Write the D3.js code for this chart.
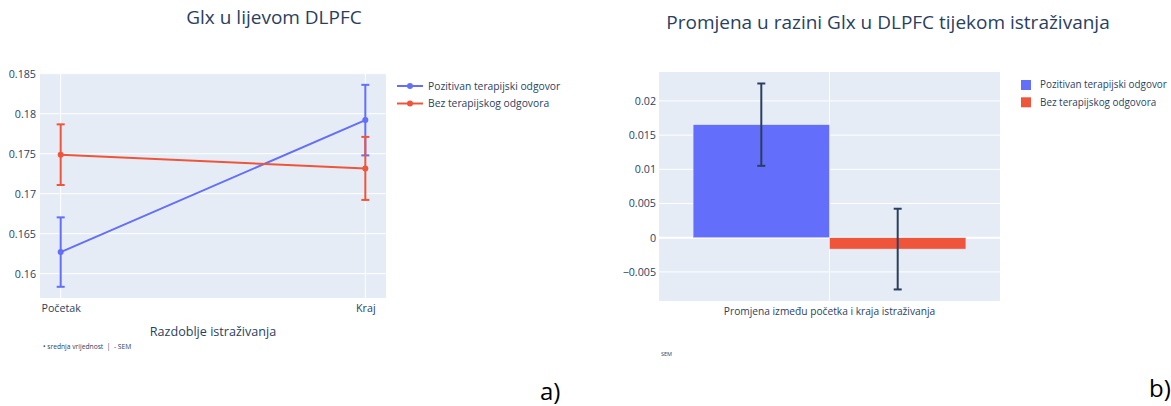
<!DOCTYPE html>
<html><head><meta charset="utf-8">
<script src="https://cdn.jsdelivr.net/npm/d3@7"></script>
<style>
html,body{margin:0;padding:0;background:#fff;overflow:hidden;}
text{font-family:"Open Sans",sans-serif;}
</style></head>
<body><svg id="c" width="1171" height="406"></svg>
<script>
// ---- data ----
const periods = ["Početak", "Kraj"];
const seriesNames = ["Pozitivan terapijski odgovor", "Bez terapijskog odgovora"];
const posMean = [0.1627, 0.1792];
const posSem = [0.00434, 0.00441];
const negMean = [0.17488, 0.17316];
const negSem = [0.00379, 0.00394];
const leftTicks = [0.16, 0.165, 0.17, 0.175, 0.18, 0.185];

const changeCategory = ["Promjena između početka i kraja istraživanja"];
const changeMean = [0.01653, -0.00166];
const changeSem = [0.00602, 0.0059];
const rightTicks = [-0.005, 0, 0.005, 0.01, 0.015, 0.02];

const colors = ["#636efa", "#EF553B"];
const ink = "#2a3f5f";

const svg = d3.select("#c");

// ---------- LEFT CHART ----------
const L = {x0: 40, x1: 386, y0: 73, y1: 298};
const xL = d3.scalePoint().domain(periods).range([L.x0, L.x1]).padding(0.0679);
const yL = d3.scaleLinear().domain([0.15696, 0.18509]).range([L.y1, L.y0]);

svg.append("rect").attr("x", L.x0).attr("y", L.y0).attr("width", L.x1 - L.x0).attr("height", L.y1 - L.y0).attr("fill", "#E5ECF6");
const gL = svg.append("g");
gL.selectAll("line.hg").data(leftTicks).join("line")
  .attr("x1", L.x0).attr("x2", L.x1).attr("y1", d => yL(d)).attr("y2", d => yL(d))
  .attr("stroke", "#fff").attr("stroke-width", 1);
gL.selectAll("line.vg").data(periods).join("line").attr("class","vg")
  .attr("x1", d => xL(d)).attr("x2", d => xL(d)).attr("y1", L.y0).attr("y2", L.y1)
  .attr("stroke", "#fff").attr("stroke-width", 1);

const yAxisL = svg.append("g").attr("transform", `translate(${L.x0},0)`)
  .call(d3.axisLeft(yL).tickValues(leftTicks).tickSize(0).tickPadding(4).tickFormat(d3.format("~g")));
yAxisL.select(".domain").remove();
yAxisL.selectAll("text").attr("font-size", "10.7px").attr("fill", ink).attr("font-family", "Open Sans");

const xAxisL = svg.append("g").attr("transform", `translate(0,${L.y1})`)
  .call(d3.axisBottom(xL).tickSize(0).tickPadding(6));
xAxisL.select(".domain").remove();
xAxisL.selectAll("text").attr("font-size", "10.7px").attr("fill", ink).attr("font-family", "Open Sans");

const leftSeries = [
  {name: seriesNames[0], mean: posMean, sem: posSem, color: colors[0]},
  {name: seriesNames[1], mean: negMean, sem: negSem, color: colors[1]}
];
leftSeries.forEach(s => {
  const pts = periods.map((p, i) => ({p, m: s.mean[i], e: s.sem[i]}));
  const g = svg.append("g");
  pts.forEach(d => {
    const x = xL(d.p);
    g.append("line").attr("x1", x).attr("x2", x).attr("y1", yL(d.m - d.e)).attr("y2", yL(d.m + d.e))
      .attr("stroke", s.color).attr("stroke-width", 2);
    [d.m - d.e, d.m + d.e].forEach(v => {
      g.append("line").attr("x1", x - 4).attr("x2", x + 4).attr("y1", yL(v)).attr("y2", yL(v))
        .attr("stroke", s.color).attr("stroke-width", 2);
    });
  });
  g.append("path").datum(pts)
    .attr("d", d3.line().x(d => xL(d.p)).y(d => yL(d.m)))
    .attr("fill", "none").attr("stroke", s.color).attr("stroke-width", 2);
  g.selectAll("circle").data(pts).join("circle")
    .attr("cx", d => xL(d.p)).attr("cy", d => yL(d.m)).attr("r", 3).attr("fill", s.color);
});

// left legend
const legL = svg.append("g");
leftSeries.forEach((s, i) => {
  const y = 86 + i * 17.5;
  legL.append("line").attr("x1", 397).attr("x2", 423).attr("y1", y).attr("y2", y).attr("stroke", s.color).attr("stroke-width", 2);
  legL.append("circle").attr("cx", 410).attr("cy", y).attr("r", 3).attr("fill", s.color);
  legL.append("text").attr("x", 428).attr("y", y).attr("dy", "0.35em").attr("font-size", "10.3px").attr("fill", ink).text(s.name);
});

svg.append("text").attr("x", 274).attr("y", 24).attr("text-anchor", "middle").attr("font-size", "19px").attr("fill", ink).text("Glx u lijevom DLPFC");
svg.append("text").attr("x", 213).attr("y", 336).attr("text-anchor", "middle").attr("font-size", "12.6px").attr("fill", ink).text("Razdoblje istraživanja");
svg.append("text").attr("x", 43).attr("y", 349).attr("font-size", "6.7px").attr("fill", ink).attr("xml:space", "preserve").text("• srednja vrijednost  |  - SEM");

// ---------- RIGHT CHART ----------
const R = {x0: 659, x1: 1000, y0: 72, y1: 301};
const xR = d3.scaleBand().domain(changeCategory).range([R.x0, R.x1]).padding(0);
const xSub = d3.scaleBand().domain(seriesNames).range([xR.bandwidth() * 0.1, xR.bandwidth() * 0.9]).padding(0);
const yR = d3.scaleLinear().domain([-0.00925, 0.02423]).range([R.y1, R.y0]);

svg.append("rect").attr("x", R.x0).attr("y", R.y0).attr("width", R.x1 - R.x0).attr("height", R.y1 - R.y0).attr("fill", "#E5ECF6");
const gR = svg.append("g");
gR.selectAll("line.hg").data(rightTicks).join("line")
  .attr("x1", R.x0).attr("x2", R.x1).attr("y1", d => yR(d)).attr("y2", d => yR(d))
  .attr("stroke", "#fff").attr("stroke-width", d => d === 0 ? 2 : 1);
gR.selectAll("line.vg").data(changeCategory).join("line").attr("class","vg")
  .attr("x1", d => xR(d) + xR.bandwidth() / 2).attr("x2", d => xR(d) + xR.bandwidth() / 2)
  .attr("y1", R.y0).attr("y2", R.y1).attr("stroke", "#fff").attr("stroke-width", 1);

const yAxisR = svg.append("g").attr("transform", `translate(${R.x0},0)`)
  .call(d3.axisLeft(yR).tickValues(rightTicks).tickSize(0).tickPadding(3).tickFormat(d3.format("~g")));
yAxisR.select(".domain").remove();
yAxisR.selectAll("text").attr("font-size", "10.7px").attr("fill", ink).attr("font-family", "Open Sans");

const xAxisR = svg.append("g").attr("transform", `translate(0,${R.y1})`)
  .call(d3.axisBottom(xR).tickSize(0).tickPadding(7));
xAxisR.select(".domain").remove();
xAxisR.selectAll("text").attr("font-size", "10.2px").attr("fill", ink).attr("font-family", "Open Sans");

const barData = seriesNames.map((n, i) => ({n, v: changeMean[i], e: changeSem[i], c: colors[i], cat: changeCategory[0]}));
const bars = svg.append("g");
bars.selectAll("rect").data(barData).join("rect")
  .attr("x", d => xR(d.cat) + xSub(d.n))
  .attr("width", xSub.bandwidth())
  .attr("y", d => yR(Math.max(0, d.v)))
  .attr("height", d => Math.abs(yR(d.v) - yR(0)))
  .attr("fill", d => d.c).attr("stroke", "#E5ECF6").attr("stroke-width", 0.5);
barData.forEach(d => {
  const x = xR(d.cat) + xSub(d.n) + xSub.bandwidth() / 2;
  bars.append("line").attr("x1", x).attr("x2", x).attr("y1", yR(d.v - d.e)).attr("y2", yR(d.v + d.e))
    .attr("stroke", ink).attr("stroke-width", 2);
  [d.v - d.e, d.v + d.e].forEach(v => {
    bars.append("line").attr("x1", x - 4).attr("x2", x + 4).attr("y1", yR(v)).attr("y2", yR(v))
      .attr("stroke", ink).attr("stroke-width", 2);
  });
});

const legR = svg.append("g");
seriesNames.forEach((n, i) => {
  const y = 85 + i * 17.3;
  legR.append("rect").attr("x", 1021).attr("y", y - 5).attr("width", 10).attr("height", 10).attr("fill", colors[i]);
  legR.append("text").attr("x", 1040).attr("y", y).attr("dy", "0.35em").attr("font-size", "9.9px").attr("fill", ink).text(n);
});

svg.append("text").attr("x", 888).attr("y", 29).attr("text-anchor", "middle").attr("font-size", "19px").attr("fill", ink).text("Promjena u razini Glx u DLPFC tijekom istraživanja");
svg.append("text").attr("x", 661).attr("y", 356).attr("font-size", "5.5px").attr("fill", ink).text("SEM");

// panel labels
svg.append("text").attr("x", 540).attr("y", 400).attr("font-size", "24px").attr("fill", "#000").attr("font-family", "Carlito, 'Liberation Sans', sans-serif").text("a)");
svg.append("text").attr("x", 1149).attr("y", 397).attr("font-size", "24px").attr("fill", "#000").attr("font-family", "Carlito, 'Liberation Sans', sans-serif").text("b)");
</script></body></html>
